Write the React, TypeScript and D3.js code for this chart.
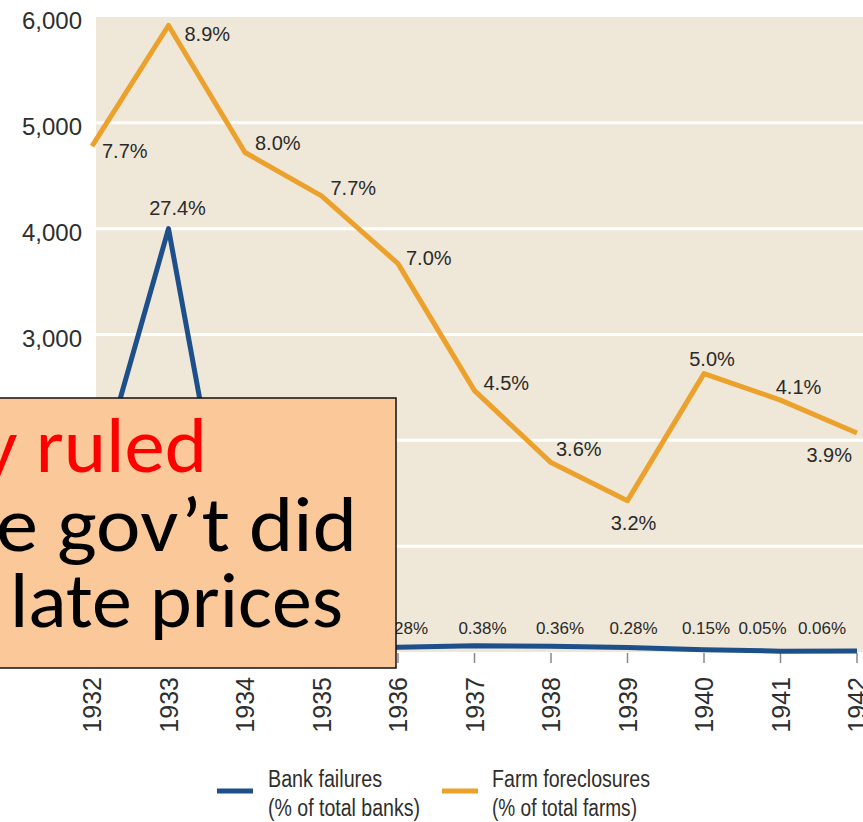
import React, { useEffect, useRef } from "react";
import * as d3 from "d3";

// values
const years = [1932, 1933, 1934, 1935, 1936, 1937, 1938, 1939, 1940, 1941, 1942];
const bankFailures = [1456, 4000, 61, 34, 44, 59, 54, 42, 22, 8, 9];
const bankPct = ["", "27.4%", "", "", "0.28%", "0.38%", "0.36%", "0.28%", "0.15%", "0.05%", "0.06%"];
const farmForeclosures = [4780, 5920, 4720, 4310, 3670, 2470, 1790, 1430, 2630, 2380, 2070];
const farmPct = ["7.7%", "8.9%", "8.0%", "7.7%", "7.0%", "4.5%", "3.6%", "3.2%", "5.0%", "4.1%", "3.9%"];
const yTicks = [1000, 2000, 3000, 4000, 5000, 6000];
// 1,000 and 2,000 sit under the callout box, so only these are labelled
const yTickLabels = [3000, 4000, 5000, 6000];
const legendItems = [
  { name: "Bank failures", sub: "(% of total banks)", color: "#1d4f8a" },
  { name: "Farm foreclosures", sub: "(% of total farms)", color: "#eba12b" },
];
const overlayLines = [
  { text: "y ruled", color: "#ff0000" },
  { text: "e gov\u2019t did", color: "#000000" },
  { text: "late prices", color: "#000000" },
];

const W = 863;
const H = 822;
const FONT = "'Liberation Sans', Arial, Helvetica, sans-serif";

const App = () => {
  const ref = useRef(null);

  useEffect(() => {
    const svgEl = ref.current;
    if (!svgEl) return;
    const svg = d3.select(svgEl);
    svg.selectAll("*").remove();

    const x = d3.scaleLinear().domain([1932, 1942]).range([92, 857]);
    const y = d3.scaleLinear().domain([0, 6000]).range([652, 17]);

    // plot background
    svg.append("rect")
      .attr("x", 96).attr("y", y(6000))
      .attr("width", W - 96).attr("height", y(0) - y(6000))
      .attr("fill", "#efe7d8");

    // gridlines
    svg.append("g").selectAll("line")
      .data(yTicks.filter(d => d < 6000))
      .enter().append("line")
      .attr("x1", 96).attr("x2", W)
      .attr("y1", d => y(d)).attr("y2", d => y(d))
      .attr("stroke", "#ffffff").attr("stroke-width", 3);

    // y labels
    svg.append("g").selectAll("text")
      .data(yTickLabels)
      .enter().append("text")
      .attr("x", 82).attr("y", d => y(d) + 12)
      .attr("text-anchor", "end")
      .attr("font-family", FONT).attr("font-size", 24)
      .attr("fill", "#2e2e2e")
      .text(d => d3.format(",")(d));

    // x ticks + labels
    svg.append("g").selectAll("line")
      .data(years)
      .enter().append("line")
      .attr("x1", d => x(d)).attr("x2", d => x(d))
      .attr("y1", 653).attr("y2", 663)
      .attr("stroke", "#888").attr("stroke-width", 1.5);

    svg.append("g").selectAll("text")
      .data(years)
      .enter().append("text")
      .attr("transform", d => `translate(${x(d) + 9},677) rotate(-90)`)
      .attr("text-anchor", "end")
      .attr("font-family", FONT).attr("font-size", 25)
      .attr("fill", "#2e2e2e")
      .text(d => d);

    const line = (vals) => d3.line()
      .x((d, i) => x(years[i]))
      .y(d => y(d))(vals);

    svg.append("path")
      .attr("d", line(farmForeclosures))
      .attr("fill", "none").attr("stroke", "#eba12b")
      .attr("stroke-width", 5).attr("stroke-linejoin", "round");

    svg.append("path")
      .attr("d", line(bankFailures))
      .attr("fill", "none").attr("stroke", "#1d4f8a")
      .attr("stroke-width", 5).attr("stroke-linejoin", "round");

    // farm labels: [dx, dy, anchor]
    const farmPos = [
      [10, 12, "start"], [16, 16, "start"], [10, -2, "start"], [9, -1, "start"],
      [8, 1, "start"], [9, -1, "start"], [5, -7, "start"], [6, 29, "middle"],
      [8, -8, "middle"], [18, -6, "middle"], [-5, 29, "end"],
    ];
    svg.append("g").selectAll("text")
      .data(farmPct)
      .enter().append("text")
      .attr("x", (d, i) => x(years[i]) + farmPos[i][0])
      .attr("y", (d, i) => y(farmForeclosures[i]) + farmPos[i][1])
      .attr("text-anchor", (d, i) => farmPos[i][2])
      .attr("font-family", FONT).attr("font-size", 20)
      .attr("fill", "#2a2a2a")
      .text(d => d);

    // bank labels
    const bankDx = [0, 9, 0, 0, 6, 8, 9, 6, 2, -18, -35];
    svg.append("g").selectAll("text")
      .data(bankPct)
      .enter().append("text")
      .attr("x", (d, i) => x(years[i]) + bankDx[i])
      .attr("y", (d, i) => (i === 1 ? y(bankFailures[i]) - 14 : 634))
      .attr("text-anchor", "middle")
      .attr("font-family", FONT).attr("font-size", (d, i) => (i === 1 ? 20 : 17))
      .attr("fill", "#2a2a2a")
      .text(d => d);

    // legend
    const lg = svg.append("g").selectAll("g")
      .data(legendItems)
      .enter().append("g")
      .attr("transform", (d, i) => `translate(${i === 0 ? 217 : 442},0)`);
    lg.append("line")
      .attr("x1", 0).attr("x2", 36).attr("y1", 791).attr("y2", 791)
      .attr("stroke", d => d.color).attr("stroke-width", 5);
    lg.append("text")
      .attr("x", (d, i) => (i === 0 ? 51 : 50)).attr("y", 787)
      .attr("font-family", FONT).attr("font-size", 23).attr("fill", "#2e2e2e")
      .attr("textLength", (d, i) => (i === 0 ? 114 : 158))
      .attr("lengthAdjust", "spacingAndGlyphs")
      .text(d => d.name);
    lg.append("text")
      .attr("x", (d, i) => (i === 0 ? 51 : 50)).attr("y", 816)
      .attr("font-family", FONT).attr("font-size", 23).attr("fill", "#2e2e2e")
      .attr("textLength", (d, i) => (i === 0 ? 152 : 145))
      .attr("lengthAdjust", "spacingAndGlyphs")
      .text(d => d.sub);

    // slide callout box over the chart
    svg.append("rect")
      .attr("x", -5).attr("y", 398)
      .attr("width", 401).attr("height", 270)
      .attr("fill", "#fbc899").attr("stroke", "#111").attr("stroke-width", 1.5);

    const boxPos = [
      [-19, 472, 226], [-4, 551, 361], [10, 627, 333],
    ];
    svg.append("g").selectAll("text")
      .data(overlayLines)
      .enter().append("text")
      .attr("x", (d, i) => boxPos[i][0]).attr("y", (d, i) => boxPos[i][1])
      .attr("textLength", (d, i) => boxPos[i][2])
      .attr("lengthAdjust", "spacingAndGlyphs")
      .attr("font-family", "Carlito, Lato, 'Open Sans', sans-serif")
      .attr("font-size", 78)
      .attr("fill", d => d.color)
      .text(d => d.text);
  }, []);

  return (
    <svg ref={ref} width={W} height={H}
      style={{ position: "absolute", left: 0, top: 0, background: "#fff" }} />
  );
};

export default App;
